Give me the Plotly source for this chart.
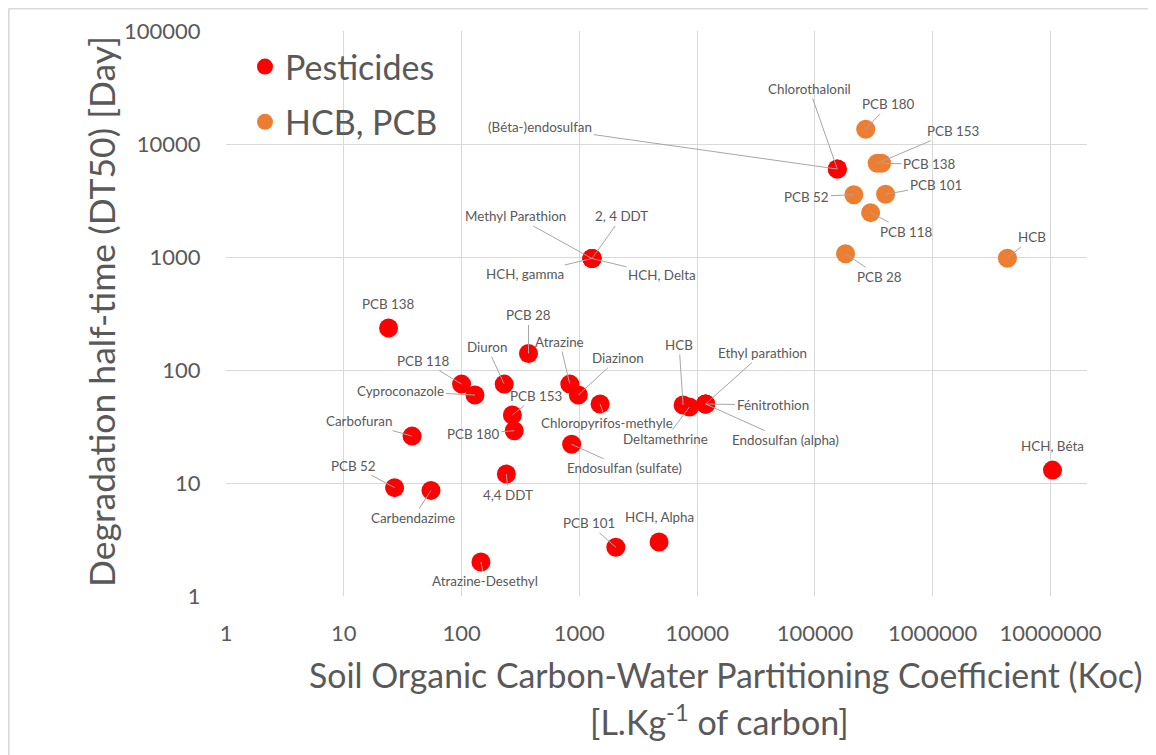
import numpy as np
import plotly.graph_objects as go

# ---------------- data ----------------
pest_names = ["PCB 138", "PCB 28", "PCB 118", "Cyproconazole", "Diuron", "Atrazine",
              "Diazinon", "Chloropyrifos-methyle", "PCB 153", "PCB 180", "Carbofuran",
              "Endosulfan (sulfate)", "4,4 DDT", "PCB 52", "Carbendazime", "HCB",
              "Deltamethrine", "Fénitrothion", "Ethyl parathion", "Endosulfan (alpha)",
              "Atrazine-Desethyl", "PCB 101", "HCH, Alpha", "2, 4 DDT", "Methyl Parathion",
              "HCH, gamma", "HCH, Delta", "Chlorothalonil", "(Béta-)endosulfan", "HCH, Béta"]
pest_koc = [24, 370, 100, 130, 230, 830, 980, 1500, 270, 280, 38, 860, 240, 27, 55, 7600,
            8600, 11800, 11800, 11800, 146, 2040, 4750, 1280, 1280, 1280, 1280, 155000,
            155000, 10400000]
pest_dt50 = [235, 140, 75, 60, 75, 75, 60, 50, 40, 29, 26, 22, 12, 9.1, 8.6, 49, 47, 50, 50,
             50, 2.0, 2.7, 3.0, 970, 970, 970, 970, 6000, 6000, 13]

pcb_names = ["PCB 180", "PCB 153", "PCB 138", "PCB 52", "PCB 101", "PCB 118", "PCB 28", "HCB"]
pcb_koc = [270000, 338000, 368000, 214000, 398000, 297000, 182000, 4310000]
pcb_dt50 = [13500, 6750, 6750, 3560, 3590, 2470, 1070, 975]

series_names = ["Pesticides", "HCB, PCB"]
x_tick_labels = ["1", "10", "100", "1000", "10000", "100000", "1000000", "10000000"]
y_tick_labels = ["1", "10", "100", "1000", "10000", "100000"]

# ---------------- layout constants ----------------
OFF = 8                      # page body margin
W, H = 1156 - OFF, 755 - OFF
PL, PR, PT, PB = 225.5 - OFF, 1087.0 - OFF, 31.0 - OFF, 596.0 - OFF
FONT = "Lato"
GREY = "#595959"
GRID = "#D9D9D9"
LEADER = "#A6A6A6"
RED = "#FF0000"
ORANGE = "#ED7D31"

# label offsets (pixels, text centre relative to point)
pest_offsets = {
    "PCB 138": (0, -24), "PCB 28": (0, -38), "PCB 118": (-38, -23),
    "Cyproconazole": (-74, -4), "Diuron": (-17, -37), "Atrazine": (-10, -42),
    "Diazinon": (40, -37), "Chloropyrifos-methyle": (7, 19), "PCB 153": (24, -19),
    "PCB 180": (-41, 3), "Carbofuran": (-53, -15), "Endosulfan (sulfate)": (53, 24),
    "4,4 DDT": (2, 21), "PCB 52": (-41, -22), "Carbendazime": (-18, 28),
    "HCB": (-4, -60), "Deltamethrine": (-24, 32), "Fénitrothion": (67, 1),
    "Ethyl parathion": (57, -51), "Endosulfan (alpha)": (80, 36),
    "Atrazine-Desethyl": (4, 19), "PCB 101": (-27, -24), "HCH, Alpha": (0, -25),
    "2, 4 DDT": (30, -42), "Methyl Parathion": (-76, -42), "HCH, gamma": (-67, 16),
    "HCH, Delta": (70, 17), "Chlorothalonil": (-28, -80),
    "(Béta-)endosulfan": (-297, -42), "HCH, Béta": (0, -24),
}
pcb_offsets = {
    "PCB 180": (23, -25), "PCB 153": (76, -32), "PCB 138": (48, 1), "PCB 52": (-47, 2),
    "PCB 101": (50, -9), "PCB 118": (36, 19), "PCB 28": (34, 23), "HCB": (25, -21),
}
no_leader = {("p", "PCB 138"), ("p", "HCH, Alpha"), ("p", "HCH, Béta")}


def px2paper(sx, sy):
    """screen pixel -> paper coordinates"""
    fx, fy = sx - OFF, sy - OFF
    return (fx - PL) / (PR - PL), (PB - fy) / (PB - PT)


fig = go.Figure()
fig.add_trace(go.Scatter(x=pest_koc, y=pest_dt50, mode="markers", name=series_names[0],
                         text=pest_names, legendgroup="a",
                         marker=dict(color=RED, size=19, line=dict(width=0))))
fig.add_trace(go.Scatter(x=pcb_koc, y=pcb_dt50, mode="markers", name=series_names[1],
                         text=pcb_names, legendgroup="b",
                         marker=dict(color=ORANGE, size=19, line=dict(width=0))))

annotations = []
for key, names, xs, ys, offs in [("p", pest_names, pest_koc, pest_dt50, pest_offsets),
                                 ("o", pcb_names, pcb_koc, pcb_dt50, pcb_offsets)]:
    for n, xv, yv in zip(names, xs, ys):
        ax, ay = offs[n]
        annotations.append(dict(
            x=np.log10(xv), y=np.log10(yv), xref="x", yref="y", text=n,
            showarrow=True, arrowhead=0, arrowwidth=1, standoff=0, startstandoff=0,
            arrowcolor="rgba(0,0,0,0)" if (key, n) in no_leader else LEADER,
            ax=ax, ay=ay, font=dict(family=FONT, size=13.4, color=GREY)))

# axis titles
tx, ty = px2paper(101, 311.5)
annotations.append(dict(x=tx, y=ty, xref="paper", yref="paper", showarrow=False,
                        text="Degradation half-time (DT50) [Day]", textangle=-90,
                        font=dict(family=FONT, size=35.5, color=GREY),
                        xanchor="center", yanchor="middle"))
tx, ty = px2paper(725, 675)
annotations.append(dict(x=tx, y=ty, xref="paper", yref="paper", showarrow=False,
                        text="Soil Organic Carbon-Water Partitioning Coefficient (Koc)",
                        font=dict(family=FONT, size=33.8, color=GREY),
                        xanchor="center", yanchor="middle"))
tx, ty = px2paper(719, 720)
annotations.append(dict(x=tx, y=ty, xref="paper", yref="paper", showarrow=False,
                        text="[L.Kg<sup>-1</sup> of carbon]",
                        font=dict(family=FONT, size=34, color=GREY),
                        xanchor="center", yanchor="middle"))

# chart-area border (top and left edges visible)
x0, y0 = px2paper(OFF, OFF + 0.5)
x1, _ = px2paper(1156, OFF)
_, y1 = px2paper(OFF, 755)
shapes = [
    dict(type="line", xref="paper", yref="paper", x0=x0, y0=y0, x1=x1, y1=y0,
         line=dict(color=GRID, width=2)),
    dict(type="line", xref="paper", yref="paper", x0=x0, y0=y0, x1=x0, y1=y1,
         line=dict(color=GRID, width=2)),
]

lx, ly = px2paper(244.5, 38)
fig.update_layout(
    width=W, height=H,
    margin=dict(l=PL, r=W - PR, t=PT, b=H - PB, autoexpand=False),
    paper_bgcolor="white", plot_bgcolor="white",
    font=dict(family=FONT, color=GREY),
    showlegend=True,
    legend=dict(x=lx, y=ly, xanchor="left", yanchor="top", bgcolor="rgba(0,0,0,0)",
                font=dict(family=FONT, size=34, color=GREY), tracegroupgap=8,
                traceorder="grouped"),
    annotations=annotations,
    shapes=shapes,
    xaxis=dict(type="log", range=[0, 7.31], showgrid=True, gridcolor=GRID, gridwidth=1,
               tickmode="array", tickvals=[10 ** i for i in range(8)], ticktext=x_tick_labels,
               tickfont=dict(family=FONT, size=22, color=GREY), ticks="outside",
               ticklen=18, tickcolor="rgba(0,0,0,0)", showline=False, zeroline=False),
    yaxis=dict(type="log", range=[0, 5], showgrid=True, gridcolor=GRID, gridwidth=1,
               tickmode="array", tickvals=[10 ** i for i in range(6)], ticktext=y_tick_labels,
               tickfont=dict(family=FONT, size=22, color=GREY), ticks="outside",
               ticklen=20, tickcolor="rgba(0,0,0,0)", showline=False, zeroline=False),
)

fig.write_html("out.html")
